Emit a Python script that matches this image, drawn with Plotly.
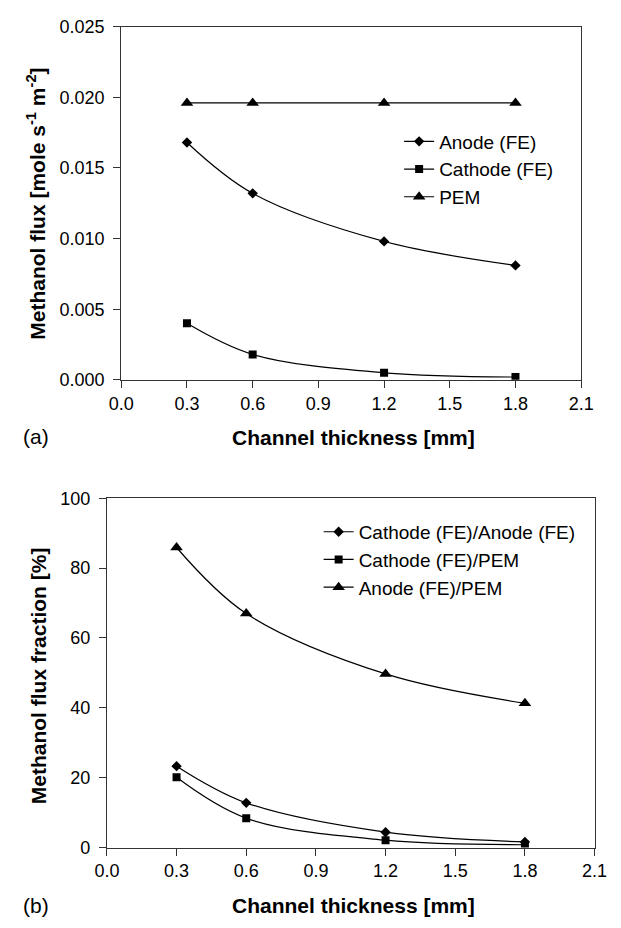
import plotly.graph_objects as go

# ---------------- data ----------------
thickness = [0.3, 0.6, 1.2, 1.8]

anode_fe = [0.0168, 0.0132, 0.0098, 0.0081]
cathode_fe = [0.0040, 0.0018, 0.0005, 0.0002]
pem = [0.0196, 0.0196, 0.0196, 0.0196]

cath_over_anode = [23.3, 12.8, 4.4, 1.6]
cath_over_pem = [20.1, 8.4, 2.1, 0.8]
anode_over_pem = [85.9, 67.0, 49.7, 41.3]

x_ticks = [0.0, 0.3, 0.6, 0.9, 1.2, 1.5, 1.8, 2.1]
y_ticks_a = [0.000, 0.005, 0.010, 0.015, 0.020, 0.025]
y_ticks_b = [0, 20, 40, 60, 80, 100]

W, H = 621, 928
FONT = "Liberation Sans, Arial, sans-serif"
AX = "#333333"

def px_x(p):
    return p / W

def px_y(p):
    return 1 - p / H

fig = go.Figure()

def add(x, y, name, sym, size, xa, ya, legend):
    fig.add_trace(go.Scatter(
        x=x, y=y, name=name, mode="lines+markers",
        line=dict(color="black", width=1.2, shape="spline", smoothing=1.0),
        marker=dict(symbol=sym, size=size, color="black"),
        xaxis=xa, yaxis=ya, legend=legend,
    ))

add(thickness, anode_fe, "Anode (FE)", "diamond", 8, "x", "y", "legend")
add(thickness, cathode_fe, "Cathode (FE)", "square", 8, "x", "y", "legend")
add(thickness, pem, "PEM", "triangle-up", 11, "x", "y", "legend")

add(thickness, cath_over_anode, "Cathode (FE)/Anode (FE)", "diamond", 8, "x2", "y2", "legend2")
add(thickness, cath_over_pem, "Cathode (FE)/PEM", "square", 8, "x2", "y2", "legend2")
add(thickness, anode_over_pem, "Anode (FE)/PEM", "triangle-up", 11, "x2", "y2", "legend2")

axis_common = dict(
    showline=True, linecolor=AX, linewidth=1.2, mirror=True,
    ticks="outside", ticklen=7, tickcolor=AX, tickwidth=1.2,
    showgrid=False, zeroline=False,
    tickfont=dict(family=FONT, size=18, color="black"),
)

legend_font = dict(family=FONT, size=19, color="black")

fig.update_layout(
    width=W, height=H,
    margin=dict(l=0, r=0, t=0, b=0),
    paper_bgcolor="white", plot_bgcolor="white",
    font=dict(family=FONT, color="black"),
    xaxis=dict(domain=[px_x(113), px_x(593)], anchor="y", range=[0, 2.1],
               tickvals=x_ticks, tickformat=".1f", **axis_common),
    yaxis=dict(domain=[px_y(378), px_y(17)], anchor="x", range=[0, 0.025],
               tickvals=y_ticks_a, tickformat=".3f", ticklabelstandoff=5, **axis_common),
    xaxis2=dict(domain=[px_x(98), px_x(607)], anchor="y2", range=[0, 2.1],
                tickvals=x_ticks, tickformat=".1f", **axis_common),
    yaxis2=dict(domain=[px_y(856), px_y(499)], anchor="x2", range=[0, 100],
                tickvals=y_ticks_b, ticklabelstandoff=5, **axis_common),
    legend=dict(x=px_x(403), y=px_y(115), xanchor="left", yanchor="top",
                bgcolor="rgba(0,0,0,0)", font=legend_font,
                tracegroupgap=0, itemwidth=30),
    legend2=dict(x=px_x(319), y=px_y(514), xanchor="left", yanchor="top",
                 bgcolor="rgba(0,0,0,0)", font=legend_font,
                 tracegroupgap=0, itemwidth=30),
    showlegend=True,
)

title_font = dict(family=FONT, size=21, color="black")
annos = [
    dict(text="<b>Channel thickness [mm]</b>", x=px_x(355), y=px_y(437)),
    dict(text="<b>Channel thickness [mm]</b>", x=px_x(355), y=px_y(915)),
    dict(text="<b>Methanol flux [mole s<sup>-1</sup> m<sup>-2</sup>]</b>", x=px_x(24), y=px_y(198), textangle=-90),
    dict(text="<b>Methanol flux fraction [%]</b>", x=px_x(26), y=px_y(680), textangle=-90),
    dict(text="(a)", x=px_x(24), y=px_y(436)),
    dict(text="(b)", x=px_x(24), y=px_y(915)),
]
for a in annos:
    fig.add_annotation(xref="paper", yref="paper", xanchor="center", yanchor="middle",
                       showarrow=False, font=title_font, **a)

fig.write_html("out.html")
